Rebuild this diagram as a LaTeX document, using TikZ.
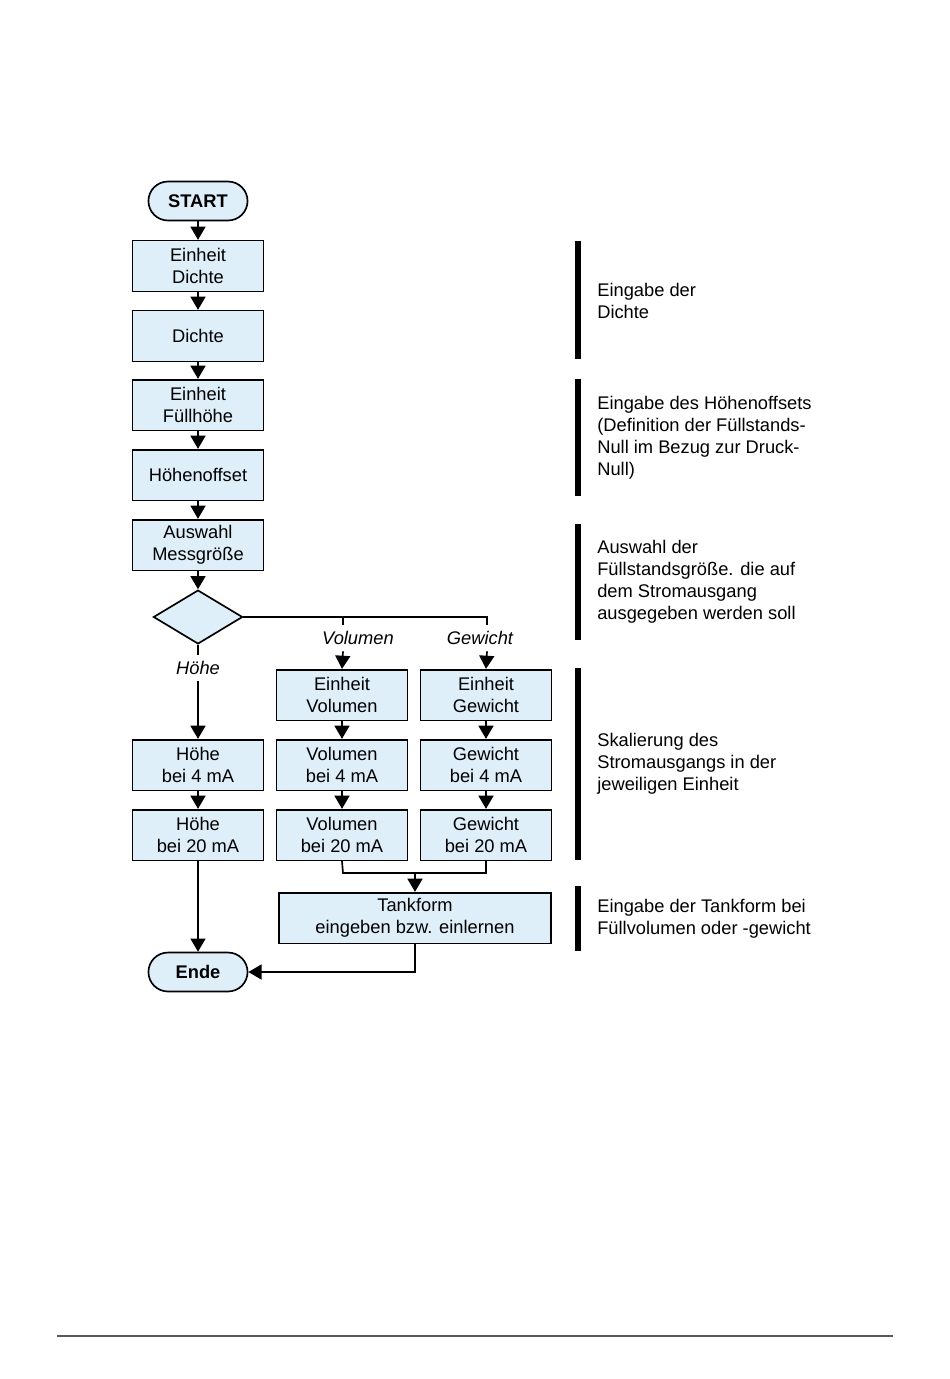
\documentclass[tikz,border=0pt]{standalone}
\usepackage{fontspec}
\setmainfont{Liberation Sans}
\usetikzlibrary{arrows.meta,shapes.geometric}
\definecolor{boxfill}{RGB}{222,239,250}
\begin{document}
\begin{tikzpicture}[x=0.0221cm,y=-0.0221cm,
  every node/.style={font=\fontsize{11.5}{13.8}\selectfont},
  box/.style={draw,line width=1.05pt,fill=boxfill,minimum width=2.895cm,minimum height=1.12cm,inner sep=0pt,align=center},
  pill/.style={draw,line width=1.05pt,fill=boxfill,minimum width=2.19cm,minimum height=0.86cm,rounded corners=0.43cm,inner sep=0pt,font=\fontsize{11.5}{13.8}\selectfont\bfseries},
  dia/.style={draw,line width=1.05pt,fill=boxfill,shape=diamond,aspect=1.65,minimum width=1.97cm,minimum height=1.19cm,inner sep=0pt},
  lbl/.style={inner sep=0pt,minimum height=0.58cm,font=\fontsize{11.5}{13.8}\selectfont\itshape},
  conn/.style={line width=1.05pt},
  arr/.style={line width=1.05pt,-{Triangle[length=0.29cm,width=0.33cm]}},
  note/.style={anchor=west,align=left,inner sep=0pt},
  bar/.style={line width=3.2pt}]
\useasboundingbox (0,0) rectangle (950,1379);
% left column
\node[pill] (start) at (198,201) {START};
\node[box] (ed) at (198,266) {Einheit\\Dichte};
\node[box] (d) at (198,336) {Dichte};
\node[box] (ef) at (198,405) {Einheit\\Füllhöhe};
\node[box] (ho) at (198,475) {Höhenoffset};
\node[box] (am) at (198,545) {Auswahl\\Messgröße};
\node[dia] (dec) at (198,617) {};
\node[lbl] (lh) at (198,668) {Höhe};
\node[box] (h4) at (198,765) {Höhe\\bei 4 mA};
\node[box] (h20) at (198,835) {Höhe\\bei 20 mA};
\node[pill] (ende) at (198,972) {Ende};
% middle columns
\node[lbl] (lv) at (358,638) {Volumen};
\node[lbl] (lg) at (480,638) {Gewicht};
\node[box] (ev) at (342,695) {Einheit\\Volumen};
\node[box] (eg) at (486,695) {Einheit\\Gewicht};
\node[box] (v4) at (342,765) {Volumen\\bei 4 mA};
\node[box] (g4) at (486,765) {Gewicht\\bei 4 mA};
\node[box] (v20) at (342,835) {Volumen\\bei 20 mA};
\node[box] (g20) at (486,835) {Gewicht\\bei 20 mA};
\node[box,minimum width=6.01cm] (tank) at (415,918) {Tankform\\eingeben bzw. einlernen};
% connectors
\draw[arr] (start) -- (ed);
\draw[arr] (ed) -- (d);
\draw[arr] (d) -- (ef);
\draw[arr] (ef) -- (ho);
\draw[arr] (ho) -- (am);
\draw[arr] (am) -- (dec);
\draw[conn] (dec.south) -- (lh.north);
\draw[arr] (lh.south) -- (h4.north);
\draw[arr] (h4) -- (h20);
\draw[arr] (h20) -- (ende);
\coordinate (jv) at (343,617);
\coordinate (jg) at (487,617);
\draw[conn] (dec.east) -- (jg) -- (jg |- lg.north);
\draw[conn] (jv) -- (jv |- lv.north);
\draw[arr] (jv |- lv.south) -- (ev.north);
\draw[arr] (jg |- lg.south) -- (eg.north);
\draw[arr] (ev) -- (v4);
\draw[arr] (v4) -- (v20);
\draw[arr] (eg) -- (g4);
\draw[arr] (g4) -- (g20);
\coordinate (mv) at (343,873);
\draw[conn] (v20.south) -- (mv) -- (mv -| g20.south) -- (g20.south);
\draw[arr] (mv -| tank.north) -- (tank.north);
\draw[arr] (tank.south) |- (ende.east);
% right notes
\draw[bar] (578,241) -- (578,359);
\draw[bar] (578,379) -- (578,496);
\draw[bar] (578,524) -- (578,640);
\draw[bar] (578,668) -- (578,860);
\draw[bar] (578,886) -- (578,951);
\node[note] (n1) at (597,301) {Eingabe der\\Dichte};
\node[note] (n2) at (597,438) {Eingabe des Höhenoffsets\\(Definition der Füllstands-\\Null im Bezug zur Druck-\\Null)};
\node[note] (n3) at (597,582) {Auswahl der\\Füllstandsgröße. die auf\\dem Stromausgang\\ausgegeben werden soll};
\node[note] (n4) at (597,764) {Skalierung des\\Stromausgangs in der\\jeweiligen Einheit};
\node[note] (n5) at (597,919) {Eingabe der Tankform bei\\Füllvolumen oder -gewicht};
% footer rule
\draw[line width=1pt,black!65] (57,1336) -- (893,1336);
\end{tikzpicture}
\end{document}
